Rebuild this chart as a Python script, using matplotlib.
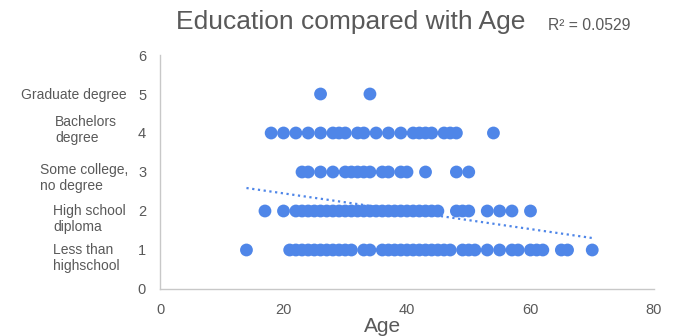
import matplotlib.pyplot as plt
import numpy as np

plt.rcParams['font.family'] = ['Liberation Sans', 'DejaVu Sans']

# ages read per education level (1 = less than highschool ... 5 = graduate degree)
age_lvl1 = [14, 21, 22, 23, 24, 25, 26, 27, 28, 29, 30, 31, 33, 34, 36, 37, 38, 39, 40,
            41, 42, 43, 44, 45, 46, 47, 49, 50, 51, 53, 55, 57, 58, 60, 61, 62, 65, 66, 70]
age_lvl2 = [17, 20, 22, 23, 24, 25, 26, 27, 28, 29, 30, 31, 32, 33, 34, 35, 36, 37, 38,
            39, 40, 41, 42, 43, 44, 45, 48, 49, 50, 53, 55, 57, 60]
age_lvl3 = [23, 24, 26, 28, 30, 31, 32, 33, 34, 36, 37, 39, 40, 43, 48, 50]
age_lvl4 = [18, 20, 22, 24, 26, 28, 29, 30, 32, 33, 35, 37, 39, 41, 42, 43, 44, 46, 47, 48, 54]
age_lvl5 = [26, 34]

level_names = ['Less than\nhighschool', 'High school\ndiploma', 'Some college,\nno degree',
               'Bachelors\ndegree', 'Graduate degree']

# linear trendline (education = slope * age + intercept)
trend_slope = -0.0229
trend_intercept = 2.91
r2_text = 'R² = 0.0529'

ages = []
levels = []
for lvl, a in enumerate([age_lvl1, age_lvl2, age_lvl3, age_lvl4, age_lvl5], start=1):
    ages += a
    levels += [lvl] * len(a)
ages = np.array(ages, dtype=float)
levels = np.array(levels, dtype=float)

blue = '#4f86e8'
grey = '#595959'

fig = plt.figure(figsize=(6.74, 3.36), dpi=100)
ax = fig.add_axes([0.2374, 0.1399, 0.7329, 0.6964])

ax.scatter(ages, levels, s=85, color=blue, edgecolors='none', zorder=3)

xt = np.array([ages.min(), ages.max()])
ax.plot(xt, trend_slope * xt + trend_intercept, color=blue, lw=1.6,
        ls=(0, (1, 1.6)), zorder=2)

ax.set_xlim(0, 80)
ax.set_ylim(0, 6)
ax.set_xticks([0, 20, 40, 60, 80])
ax.set_yticks(range(7))
for s in ['top', 'right']:
    ax.spines[s].set_visible(False)
for s in ['left', 'bottom']:
    ax.spines[s].set_color('#c8c8c8')
    ax.spines[s].set_linewidth(1)
ax.tick_params(length=0, labelsize=10.5, colors=grey, pad=10)
ax.set_xlabel('Age', fontsize=15, color=grey)
ax.xaxis.set_label_coords(0.45, -0.12)
ax.xaxis.label.set_va('top')

fig.text(0.52, 0.935, 'Education compared with Age', ha='center', va='center',
         fontsize=19, color=grey)
fig.text(0.813, 0.925, r2_text, ha='left', va='center', fontsize=11.3, color=grey)

# category names beside the numeric ticks
name_pos = [(53, 258), (53, 219), (40, 178), (55, 130), (21, 95)]
for name, (px, py) in zip(level_names, name_pos):
    fig.text(px / 674, 1 - py / 336, name, ha='left', va='center', fontsize=10,
             color=grey, linespacing=1.25)

fig.savefig('out.png', dpi=100)
